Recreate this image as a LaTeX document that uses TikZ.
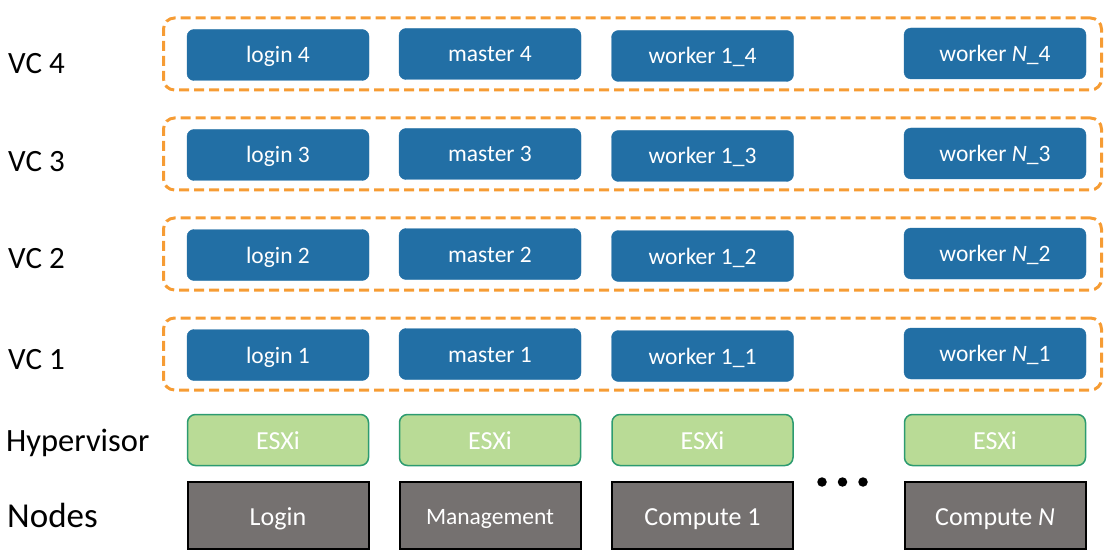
\documentclass[tikz,border=0pt]{standalone}
\usepackage{fontspec}
\setmainfont{Carlito}
\usetikzlibrary{positioning}
\definecolor{vmblue}{RGB}{34,111,165}
\definecolor{vcorange}{RGB}{246,156,52}
\definecolor{esxgreen}{RGB}{185,219,150}
\definecolor{esxborder}{RGB}{44,155,112}
\definecolor{hostgray}{RGB}{117,113,112}
\tikzset{vm/.style = {fill=vmblue, draw=vmblue, rounded corners=7pt, text=white, inner sep=0pt,
                      text height=16pt, text depth=0pt, minimum width=182pt, minimum height=51pt,
                      font=\fontsize{23.5}{28}\selectfont},
         vcbox/.style = {draw=vcorange, line width=3pt, dash pattern=on 10pt off 5pt,
                         rounded corners=11pt, minimum width=938pt, minimum height=72pt},
         esx/.style = {fill=esxgreen, draw=esxborder, line width=1.5pt, rounded corners=8pt, text=white,
                       inner sep=0pt, text height=18.6pt, text depth=0pt, minimum width=181pt,
                       minimum height=51pt, font=\fontsize{26}{30}\selectfont},
         host/.style = {fill=hostgray, draw=black, line width=2pt, text=white, inner sep=0pt,
                        text height=19pt, text depth=0pt, minimum width=181pt, minimum height=67pt,
                        font=\fontsize{26}{30}\selectfont},
         rowlabel/.style = {anchor=base west, inner sep=0pt, font=\fontsize{31}{36}\selectfont},
         dot/.style = {circle, fill=black, inner sep=0pt, minimum size=9.5pt}}

\begin{document}
\begin{tikzpicture}[x=1pt, y=-1pt]
    \useasboundingbox (0, 0) rectangle (1112, 559);

    % virtual clusters
    \foreach \k/\y/\ly in {4/55/74, 3/155/172, 2/255/269, 1/355/369} {
        \node [vcbox] (vc\k) at (632.5, \y-1) {};
        \node [rowlabel] (lab\k) at (8, \ly) {VC \k};
        \node [vm] (login\k) at (278, \y) {login \k};
        \node [vm] (master\k) at (490, \y-1) {master \k};
        \node [vm] (workerA\k) at (702.5, \y+1) {worker 1\_\k};
        \node [vm] (workerN\k) at (995, \y-1.5) {worker \textit{N}\_\k};
    }

    % hypervisor
    \node [rowlabel, font=\fontsize{32.5}{38}\selectfont] (labhyp) at (6, 451) {Hypervisor};
    \node [esx] (esxlogin) at (278, 440) {ESXi};
    \node [esx] (esxmgmt) at (490, 440) {ESXi};
    \node [esx] (esxcompA) at (702.5, 440) {ESXi};
    \node [esx] (esxcompN) at (995, 440) {ESXi};

    % physical nodes
    \node [rowlabel, font=\fontsize{35}{40}\selectfont] (labnodes) at (7, 527) {Nodes};
    \node [host] (login) at (278, 515.5) {Login};
    \node [host, text height=17pt, font=\fontsize{23.5}{28}\selectfont] (mgmt) at (490, 515.5) {Management};
    \node [host] (compA) at (702.5, 515.5) {Compute 1};
    \node [host] (compN) at (995, 515.5) {Compute \textit{N}};

    \foreach \d in {0, 1, 2}
        \node [dot] (dot\d) at (822+20.5*\d, 482) {};
\end{tikzpicture}
\end{document}
